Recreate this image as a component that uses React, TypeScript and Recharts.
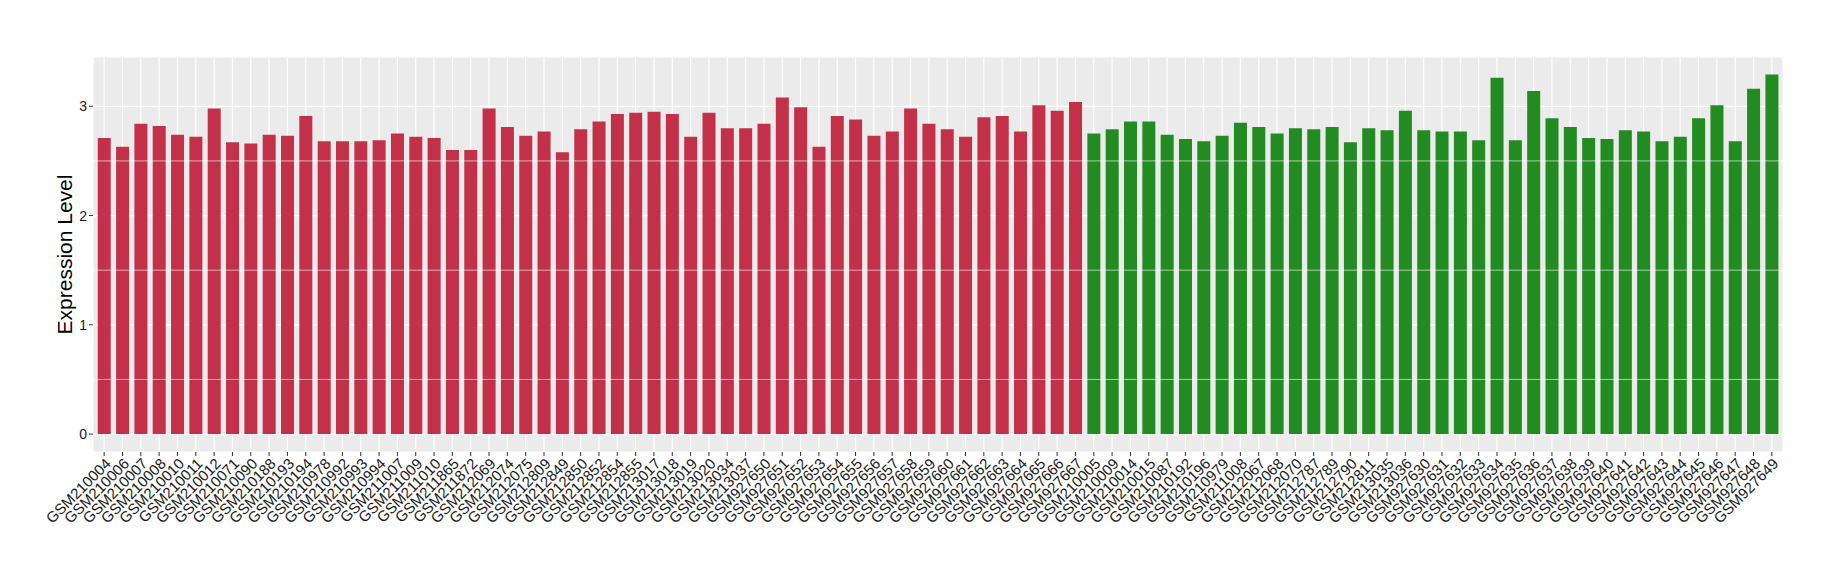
import { BarChart, Bar, XAxis, YAxis, CartesianGrid, ReferenceLine, Cell } from 'recharts';

// first group (red)
const redSamples = [
  'GSM210004', 'GSM210006', 'GSM210007', 'GSM210008', 'GSM210010', 'GSM210011', 'GSM210012',
  'GSM210071', 'GSM210090', 'GSM210188', 'GSM210193', 'GSM210194', 'GSM210978', 'GSM210992',
  'GSM210993', 'GSM210994', 'GSM211007', 'GSM211009', 'GSM211010', 'GSM211865', 'GSM211872',
  'GSM212069', 'GSM212074', 'GSM212075', 'GSM212809', 'GSM212849', 'GSM212850', 'GSM212852',
  'GSM212854', 'GSM212855', 'GSM213017', 'GSM213018', 'GSM213019', 'GSM213020', 'GSM213034',
  'GSM213037', 'GSM927650', 'GSM927651', 'GSM927652', 'GSM927653', 'GSM927654', 'GSM927655',
  'GSM927656', 'GSM927657', 'GSM927658', 'GSM927659', 'GSM927660', 'GSM927661', 'GSM927662',
  'GSM927663', 'GSM927664', 'GSM927665', 'GSM927666', 'GSM927667',
];
const redValues = [
  2.71, 2.63, 2.84, 2.82, 2.74, 2.72, 2.98, 2.67, 2.66, 2.74, 2.73, 2.91, 2.68, 2.68,
  2.68, 2.69, 2.75, 2.72, 2.71, 2.6, 2.6, 2.98, 2.81, 2.73, 2.77, 2.58, 2.79, 2.86,
  2.93, 2.94, 2.95, 2.93, 2.72, 2.94, 2.8, 2.8, 2.84, 3.08, 2.99, 2.63, 2.91, 2.88,
  2.73, 2.77, 2.98, 2.84, 2.79, 2.72, 2.9, 2.91, 2.77, 3.01, 2.96, 3.04,
];

// second group (green)
const greenSamples = [
  'GSM210005', 'GSM210009', 'GSM210014', 'GSM210015', 'GSM210087', 'GSM210192', 'GSM210196',
  'GSM210979', 'GSM211008', 'GSM212067', 'GSM212068', 'GSM212070', 'GSM212787', 'GSM212789',
  'GSM212790', 'GSM212811', 'GSM213035', 'GSM213036', 'GSM927630', 'GSM927631', 'GSM927632',
  'GSM927633', 'GSM927634', 'GSM927635', 'GSM927636', 'GSM927637', 'GSM927638', 'GSM927639',
  'GSM927640', 'GSM927641', 'GSM927642', 'GSM927643', 'GSM927644', 'GSM927645', 'GSM927646',
  'GSM927647', 'GSM927648', 'GSM927649',
];
const greenValues = [
  2.75, 2.79, 2.86, 2.86, 2.74, 2.7, 2.68, 2.73, 2.85, 2.81, 2.75, 2.8, 2.79, 2.81,
  2.67, 2.8, 2.78, 2.96, 2.78, 2.77, 2.77, 2.69, 3.26, 2.69, 3.14, 2.89, 2.81, 2.71,
  2.7, 2.78, 2.77, 2.68, 2.72, 2.89, 3.01, 2.68, 3.16, 3.29,
];

const yTicks = [0, 1, 2, 3];
const minorY = [0.5, 1.5, 2.5];

const RED = '#C3304A';
const GREEN = '#228B22';

const data = [
  ...redSamples.map((s, i) => ({ sample: s, value: redValues[i], group: 'a' })),
  ...greenSamples.map((s, i) => ({ sample: s, value: greenValues[i], group: 'b' })),
];

const FONT = '"Liberation Sans", Arial, sans-serif';

const XTick = ({ x, y, payload }: any) => (
  <g transform={`translate(${x},${y})`}>
    <text
      transform="rotate(-45)"
      textAnchor="end"
      dy="0.72em"
      fontSize={15}
      fontFamily={FONT}
      fill="#1a1a1a"
    >
      {payload.value}
    </text>
  </g>
);

export default function App() {
  return (
    <div style={{ position: 'absolute', left: 0, top: 0, width: 1840, height: 580, background: '#fff' }}>
      <BarChart
        width={1840}
        height={580}
        data={data}
        margin={{ top: 57, right: 57, left: 0, bottom: 0 }}
        barCategoryGap="15%"
      >
        <CartesianGrid fill="#EBEBEB" stroke="#FFFFFF" strokeWidth={1.2} />
        {minorY.map((v) => (
          <ReferenceLine key={v} y={v} stroke="#FFFFFF" strokeWidth={0.6} />
        ))}
        <XAxis
          dataKey="sample"
          interval={0}
          height={128}
          padding={{ left: 2, right: 2 }}
          axisLine={false}
          tickLine={{ stroke: '#333333' }}
          tickSize={4}
          tickMargin={1}
          tick={<XTick />}
        />
        <YAxis
          type="number"
          domain={[-0.164, 3.451]}
          ticks={yTicks}
          allowDataOverflow
          width={93}
          axisLine={false}
          tickLine={{ stroke: '#333333' }}
          tickSize={4}
          tickMargin={2}
          tick={{ fontSize: 14, fontFamily: FONT, fill: '#1a1a1a' }}
          label={{
            value: 'Expression Level',
            angle: -90,
            position: 'insideLeft',
            offset: 65,
            style: { fontSize: 21, fontFamily: FONT, fill: '#000', textAnchor: 'middle' },
          }}
        />
        <Bar dataKey="value" isAnimationActive={false}>
          {data.map((d) => (
            <Cell key={d.sample} fill={d.group === 'a' ? RED : GREEN} />
          ))}
        </Bar>
      </BarChart>
    </div>
  );
}
